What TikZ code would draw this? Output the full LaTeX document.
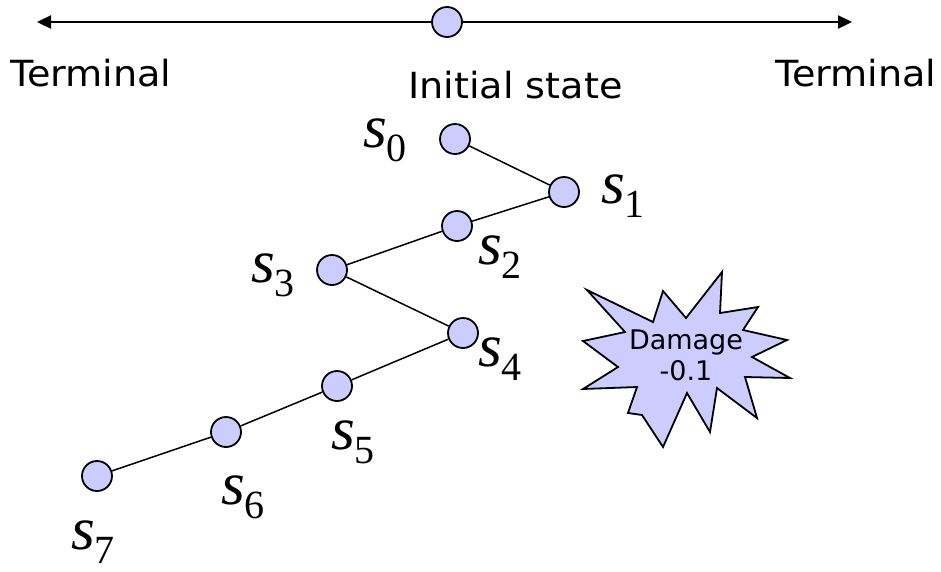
\documentclass[tikz,border=0pt]{standalone}
\usepackage{fontspec}
\setmainfont{DejaVu Sans}
\newfontfamily\widesans{DejaVu Sans}[FakeStretch=1.06]
\newfontfamily\serifit{Liberation Serif}
\usetikzlibrary{arrows.meta}
\definecolor{nodefill}{RGB}{204,204,255}
\newcommand{\slab}[1]{{\serifit\fontsize{61}{61}\selectfont\itshape s\raisebox{-14pt}{\fontsize{40}{40}\selectfont\upshape #1}}}
\begin{document}
\begin{tikzpicture}[x=1pt,y=-1pt,
  state/.style={circle,draw,line width=1.8pt,fill=nodefill,minimum size=30pt,inner sep=0pt},
  edge/.style={line width=1.5pt},
  slabel/.style={anchor=base west,inner sep=0pt},
  bigtext/.style={anchor=base west,inner sep=0pt,font=\widesans\fontsize{36}{36}\selectfont},
  dmgtext/.style={align=center,inner sep=0pt,font=\fontsize{27}{31}\selectfont},
  burst/.style={draw,line width=1.8pt,fill=nodefill,line join=miter}
]
\useasboundingbox (0,0) rectangle (941,571);
% top line
\coordinate (L) at (37,22);
\coordinate (R) at (852,22);
\draw[line width=2.3pt,{Triangle[length=14pt,width=13pt]}-{Triangle[length=14pt,width=13pt]}] (L) -- (R);
\node[state] (top) at (447,22) {};
\node[bigtext] (tl) at (10,86) {Terminal};
\node[bigtext] (tr) at (775,86) {Terminal};
\node[bigtext] (init) at (408,98) {Initial state};
% states
\node[state] (s0) at (455,139) {};
\node[state] (s1) at (564,192) {};
\node[state] (s2) at (457,226) {};
\node[state] (s3) at (332,270) {};
\node[state] (s4) at (463,333) {};
\node[state] (s5) at (337,386) {};
\node[state] (s6) at (226,432) {};
\node[state] (s7) at (97,476) {};
\draw[edge] (s0) -- (s1);
\draw[edge] (s1) -- (s2);
\draw[edge] (s2) -- (s3);
\draw[edge] (s3) -- (s4);
\draw[edge] (s4) -- (s5);
\draw[edge] (s5) -- (s6);
\draw[edge] (s6) -- (s7);
% labels
\node[slabel] (l0) at (363,147) {\slab{0}};
\node[slabel] (l1) at (601,203) {\slab{1}};
\node[slabel] (l2) at (478,264) {\slab{2}};
\node[slabel] (l3) at (251,282) {\slab{3}};
\node[slabel] (l4) at (478,366) {\slab{4}};
\node[slabel] (l5) at (331,449) {\slab{5}};
\node[slabel] (l6) at (221,504) {\slab{6}};
\node[slabel] (l7) at (71,549) {\slab{7}};
% damage burst
\draw[burst] (587,290) -- (653,322) -- (663,291) -- (686,318) -- (722,272) -- (720,313)
  -- (758,307) -- (743,330) -- (787,340) -- (752,357) -- (790,378) -- (745,377)
  -- (757,418) -- (717,388) -- (710,432) -- (687,393) -- (663,447) -- (642,415)
  -- (628,413) -- (637,387) -- (583,389) -- (618,367) -- (583,341) -- (625,332) -- cycle;
\node[dmgtext] (dmg) at (686,355) {Damage\\-0.1};
\end{tikzpicture}
\end{document}
